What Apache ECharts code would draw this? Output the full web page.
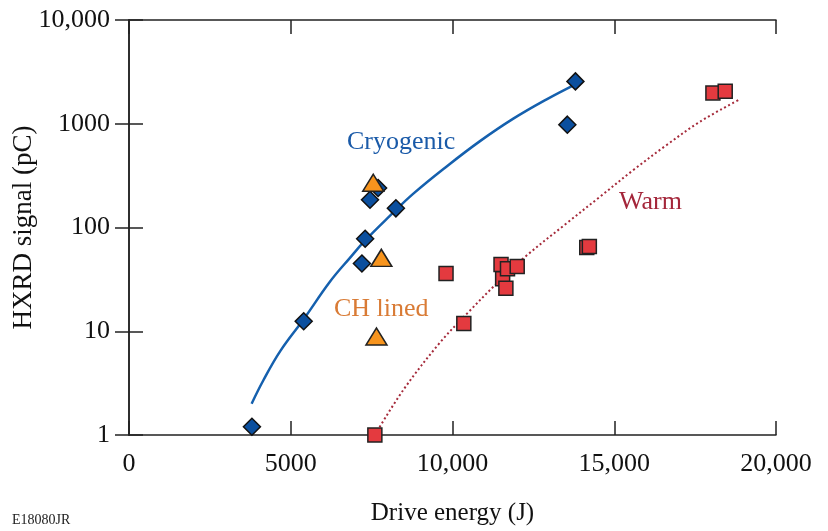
<!DOCTYPE html>
<html><head><meta charset="utf-8">
<script src="https://cdn.jsdelivr.net/npm/echarts@6/dist/echarts.min.js"></script>
<style>html,body{margin:0;padding:0;background:#fff}#c{width:828px;height:531px}</style>
</head><body><div id="c"></div>
<script>
// Data
const cryoX = [3800, 5400, 7200, 7300, 7450, 7700, 8250, 13550, 13800];
const cryoY = [1.2, 12.5, 45, 78, 185, 240, 153, 980, 2560];
const chX = [7550, 7800, 7650];
const chY = [270, 51, 8.9];
const warmX = [7600, 9800, 10350, 11500, 11550, 11650, 11700, 12000, 14150, 14230, 18050, 18430];
const warmY = [1.0, 36, 11.9, 44, 32, 26, 40, 42, 64, 65.5, 1980, 2060];
// Fit curves, points
const cryoFitX = [3790, 4150, 4670, 5410, 6210, 6830, 7300, 8070, 8790, 9820, 10850, 11880, 12910, 13800];
const cryoFitY = [2.0, 3.35, 6.4, 13.2, 30, 51, 75, 130, 212, 388, 680, 1120, 1720, 2400];
const warmFitX = [7600, 8480, 9610, 10440, 11370, 12190, 13530, 14560, 15590, 16620, 17650, 18840];
const warmFitY = [1.0, 2.72, 7.76, 14.7, 29, 50.5, 110, 198, 358, 624, 1047, 1694];
const xTickLabels = {0: '0', 5000: '5000', 10000: '10,000', 15000: '15,000', 20000: '20,000'};
const yTickLabels = {1: '1', 10: '10', 100: '100', 1000: '1000', 10000: '10,000'};

const zip = (a, b) => a.map((v, i) => [v, b[i]]);
const FONT = '"Liberation Serif", "DejaVu Serif", serif';
const axisLine = {show: true, lineStyle: {color: '#222', width: 1.5}};
const axisTick = {show: true, inside: true, length: 14, lineStyle: {color: '#222', width: 1.5}};

const chart = echarts.init(document.getElementById('c'), null, {renderer: 'canvas'});
chart.setOption({
  animation: false,
  backgroundColor: '#fff',
  grid: {left: 129, right: 52, top: 20, bottom: 96, containLabel: false, outerBoundsMode: 'none'},
  xAxis: [{
    type: 'value', min: 0, max: 20000, interval: 5000, position: 'bottom',
    axisLine, axisTick, splitLine: {show: false},
    axisLabel: {fontFamily: FONT, fontSize: 26, color: '#111', margin: 16,
      formatter: v => xTickLabels[v] !== undefined ? xTickLabels[v] : ''},
    name: 'Drive energy (J)', nameLocation: 'middle', nameGap: 66, nameMoveOverlap: false,
    nameTextStyle: {fontFamily: FONT, fontSize: 25, color: '#111'}
  }, {
    type: 'value', min: 0, max: 20000, interval: 5000, position: 'top',
    axisLine, axisTick, axisLabel: {show: false}, splitLine: {show: false}
  }],
  yAxis: [{
    type: 'log', logBase: 10, min: 1, max: 10000, position: 'left',
    axisLine, axisTick, splitLine: {show: false}, minorTick: {show: false},
    axisLabel: {fontFamily: FONT, fontSize: 26, color: '#111', margin: 19,
      formatter: v => yTickLabels[Math.round(v)] !== undefined ? yTickLabels[Math.round(v)] : ''},
    name: 'HXRD signal (pC)', nameLocation: 'middle', nameGap: 92, nameRotate: 90, nameMoveOverlap: false,
    nameTextStyle: {fontFamily: FONT, fontSize: 27, color: '#111'}
  }, {
    type: 'log', logBase: 10, min: 1, max: 10000, position: 'right',
    axisLine, axisTick, axisLabel: {show: false}, splitLine: {show: false}
  }],
  series: [
    {type: 'line', data: zip(cryoFitX, cryoFitY), smooth: 0.4, showSymbol: false, z: 1,
      lineStyle: {color: '#1560ae', width: 2.5}},
    {type: 'line', data: zip(warmFitX, warmFitY), smooth: 0.35, showSymbol: false, z: 1,
      lineStyle: {color: '#a52a3a', width: 2, type: [2, 2.6]}},
    {type: 'scatter', data: zip(warmX, warmY), symbol: 'rect', symbolSize: 14, z: 3,
      itemStyle: {color: '#e43a3f', borderColor: '#222', borderWidth: 1.5, opacity: 1}},
    {type: 'scatter', data: zip(cryoX, cryoY), symbol: 'diamond', symbolSize: [17, 17], z: 4,
      itemStyle: {color: '#0b4f9e', borderColor: '#111', borderWidth: 1.5, opacity: 1}},
    {type: 'scatter', data: zip(chX, chY), symbol: 'triangle', symbolSize: [21, 17], z: 5,
      itemStyle: {color: '#f7941d', borderColor: '#222', borderWidth: 1.5, opacity: 1}}
  ],
  graphic: [
    {type: 'text', left: 347, top: 129, z: 10,
      style: {text: 'Cryogenic', font: '26px ' + FONT, fill: '#1a5aa8'}},
    {type: 'text', left: 619, top: 189, z: 10,
      style: {text: 'Warm', font: '26px ' + FONT, fill: '#a4263a'}},
    {type: 'text', left: 334, top: 296, z: 10,
      style: {text: 'CH lined', font: '26px ' + FONT, fill: '#d97b35'}},
    {type: 'text', left: 12, top: 513, z: 10,
      style: {text: 'E18080JR', font: '14px ' + FONT, fill: '#222'}}
  ]
});
</script>
</body></html>
